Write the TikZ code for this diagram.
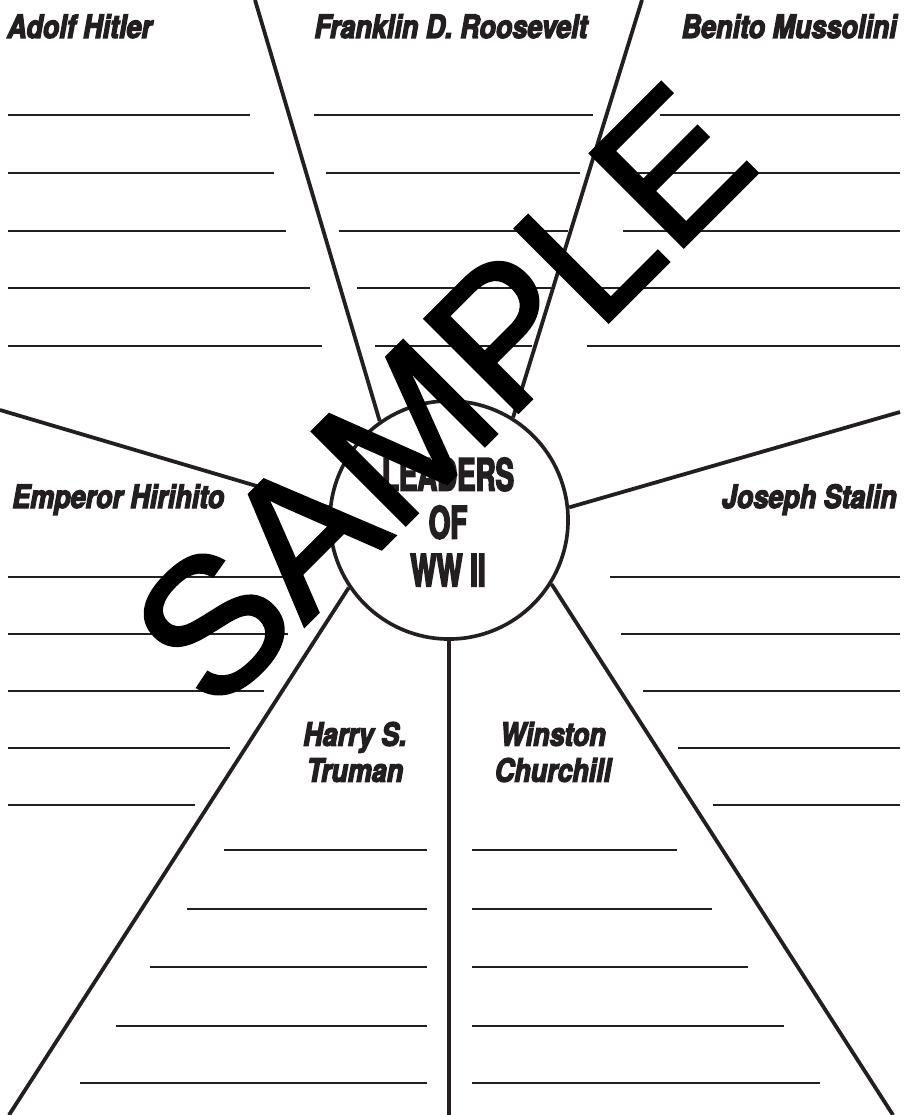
\documentclass[tikz,border=0pt]{standalone}
\usepackage{fontspec}
\newfontfamily\leaderfont{TeX Gyre Heros}[FakeStretch=0.84, FakeBold=4]
\newfontfamily\hubfont{TeX Gyre Heros}[FakeStretch=0.62, FakeBold=3.5]
\newfontfamily\stampfont{Liberation Sans}[FakeBold=1.8]
\definecolor{ink}{HTML}{231F20}

\begin{document}
\begin{tikzpicture}[
    x=0.025cm, y=-0.025cm,
    spoke/.style={draw=ink, line width=2.7pt},
    blank/.style={draw=ink, line width=1.4pt},
    hub/.style={circle, draw=ink, fill=white, line width=2.6pt,
                minimum size=5.95cm, inner sep=0pt},
    leader/.style={inner sep=0pt, text=ink, align=center,
                   font=\leaderfont\bfseries\itshape\fontsize{22.8}{25.6}\selectfont},
    hubtext/.style={inner sep=0pt, text=ink, align=center,
                    font=\hubfont\bfseries\fontsize{31.7}{34}\selectfont},
    stamp/.style={inner sep=0pt, rotate=45,
                  font=\stampfont\fontsize{136}{136}\selectfont}
]
  \useasboundingbox (0,0) rectangle (908,1115);

  % --- Hub and spokes ---
  \node[hub] (hub) at (449,520) {};
  \coordinate (tl) at (255,0);
  \coordinate (tr) at (642,0);
  \coordinate (ml) at (0,410);
  \coordinate (mr) at (900,412);
  \coordinate (bl) at (9,1115);
  \coordinate (bm) at (449,1115);
  \coordinate (br) at (893,1115);

  \draw[spoke] (hub.125) -- (tl);
  \draw[spoke] (hub.58) -- (tr);
  \draw[spoke] (hub.174) -- (ml);
  \draw[spoke] (hub.6) -- (mr);
  \draw[spoke] (hub.-146) -- (bl);
  \draw[spoke] (hub.south) -- (bm);
  \draw[spoke] (hub.-32) -- (br);

  \node[hubtext] (title) at (448,522) {LEADERS\\OF\\WW II};

  % --- Names ---
  \node[leader, anchor=base west] (hitler) at (7,38) {Adolf Hitler};
  \node[leader, anchor=base] (fdr) at (451,38) {Franklin D. Roosevelt};
  \node[leader, anchor=base east] (mussolini) at (897,38) {Benito Mussolini};
  \node[leader, anchor=base west] (hirohito) at (12,508) {Emperor Hirihito};
  \node[leader, anchor=base east] (stalin) at (897,508) {Joseph Stalin};
  \node[leader] (truman) at (355,752) {Harry S.\\Truman};
  \node[leader] (churchill) at (553,752) {Winston\\Churchill};

  % --- Writing lines, top row ---
  \draw[blank] (8,115) -- (250,115)  (8,173) -- (274,173)  (8,231) -- (286,231)
               (8,288) -- (310,288)  (8,346) -- (322,346);
  \draw[blank] (314,115) -- (593,115)  (326,173) -- (580,173)  (339,231) -- (568,231)
               (357,288) -- (551,288)  (375,346) -- (532,346);
  \draw[blank] (660,115) -- (900,115)  (636,173) -- (900,173)  (623,231) -- (900,231)
               (599,288) -- (900,288)  (587,346) -- (900,346);

  % --- Writing lines, middle row ---
  \draw[blank] (8,577) -- (300,577)  (8,634) -- (288,634)  (8,691) -- (264,691)
               (8,748) -- (230,748)  (8,805) -- (195,805);
  \draw[blank] (610,577) -- (900,577)  (621,634) -- (900,634)  (643,691) -- (900,691)
               (678,748) -- (900,748)  (713,805) -- (900,805);

  % --- Writing lines, bottom row ---
  \draw[blank] (224,850) -- (427,850)  (187,909) -- (427,909)  (150,967) -- (427,967)
               (116,1026) -- (427,1026)  (80,1083) -- (427,1083);
  \draw[blank] (472,850) -- (677,850)  (472,909) -- (712,909)  (472,967) -- (748,967)
               (472,1026) -- (784,1026)  (472,1083) -- (820,1083);

  % Watermark
  \node[stamp] (sample) at (442,395) {SAMPLE};

\end{tikzpicture}
\end{document}
